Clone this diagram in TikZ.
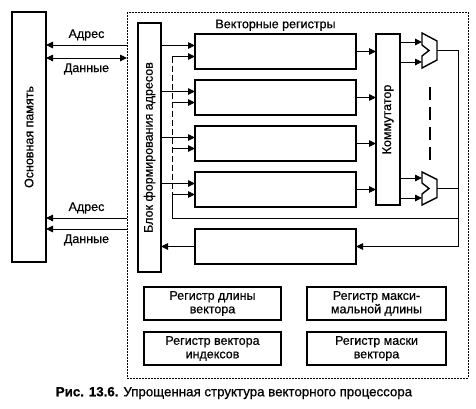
\documentclass[tikz,border=0pt]{standalone}
\usepackage{fontspec}
\setmainfont{Liberation Sans}[FakeBold=0.6]
\usetikzlibrary{arrows.meta,positioning}

\begin{document}
\begin{tikzpicture}[x=1pt,y=-1pt,node distance=11pt,
  font=\fontsize{12.5}{13.5}\selectfont,
  >={Triangle[length=7pt,width=6.5pt]},
  bx/.style={draw,line width=1.5pt,inner sep=0pt,outer sep=0pt},
  rg/.style={bx,minimum width=161pt,minimum height=35pt},
  tb/.style={bx,minimum width=137pt,minimum height=33pt,align=center},
  ar/.style={->,line width=0.9pt},
  ln/.style={line width=0.9pt},
  lb/.style={inner sep=1pt}]
  \useasboundingbox (0,0) rectangle (476,408);
  % frame of the processor
  \draw[line width=0.6pt,dash pattern=on 2pt off 1pt] (127,12) rectangle (468,378);
  \coordinate (fa1) at (127,45);
  \coordinate (fd1) at (127,58);
  \coordinate (fa2) at (127,218);
  \coordinate (fd2) at (127,229);
  % memory and address unit
  \node[bx,minimum width=34pt,minimum height=250pt,
    label={[rotate=90]center:Основная память}] (mem) at (29,137) {};
  \node[bx,minimum width=23pt,minimum height=249pt,
    label={[rotate=90]center:Блок формирования адресов}] (blk) at (149.5,147.5) {};
  % vector registers
  \node[rg] (r1) at (275.5,51.5) {};
  \node[rg,below=of r1] (r2) {};
  \node[rg,below=of r2] (r3) {};
  \node[rg,below=of r3] (r4) {};
  \node[rg,below=22pt of r4] (r5) {};
  \node[lb,above=2pt of r1] (ttl) {Векторные регистры};
  \node[bx,minimum width=24pt,minimum height=171pt,anchor=north west,
    label={[rotate=90]center:Коммутатор}] (com) at ([xshift=20pt]r1.north east) {};
  % multiplexers
  \coordinate (m1) at (422,33);
  \coordinate (m1o) at (437,50.5);
  \coordinate (m1a) at (422,42);
  \coordinate (m1b) at (422,62);
  \coordinate (m2) at (422,172);
  \coordinate (m2o) at (437,188.5);
  \coordinate (m2a) at (422,178);
  \coordinate (m2b) at (422,198);
  \draw[line width=1.4pt,line join=miter] (m1) -- ++(15,8) -- ++(0,19) -- ++(-15,8)
    -- ++(0,-12) -- ++(7,-5.5) -- ++(-7,-5.5) -- cycle;
  \draw[line width=1.4pt,line join=miter] (m2) -- ++(15,7.5) -- ++(0,18) -- ++(-15,7.5)
    -- ++(0,-11) -- ++(7,-5.5) -- ++(-7,-5.5) -- cycle;
  \draw[line width=1.3pt,dash pattern=on 13pt off 7pt] (430,87) -- (430,160);
  % feedback bus
  \coordinate (fb) at (458,218);
  \coordinate (bus) at (172,218);
  \coordinate (a1) at ([yshift=6pt]r1.west);
  \coordinate (a2) at ([yshift=6pt]r2.west);
  \coordinate (a3) at ([yshift=6pt]r3.west);
  \coordinate (a4) at ([yshift=6pt]r4.west);
  \coordinate (b1) at ([yshift=-5pt]r1.west);
  \coordinate (b2) at ([yshift=-5pt]r2.west);
  \coordinate (b3) at ([yshift=-5pt]r3.west);
  \coordinate (b4) at ([yshift=-5pt]r4.west);
  % small registers
  \node[tb] (rlen) at (212.5,303.5) {Регистр длины\\вектора};
  \node[tb,below=12pt of rlen] (ridx) {Регистр вектора\\индексов};
  \node[tb,minimum width=139pt,right=26pt of rlen] (rmax) {Регистр макси-\\мальной длины};
  \node[tb,minimum width=139pt,below=12pt of rmax] (rmsk) {Регистр маски\\вектора};
  \node[lb,font=\fontsize{13.3}{15}\selectfont] (cap) at (234,393)
    {\textbf{Рис. 13.6.} Упрощенная структура векторного процессора};
  % memory lines
  \draw[ar] (fa1) -- (fa1 -| mem.east) node[lb,midway,above=3pt]{Адрес};
  \draw[<->,ln] (mem.east |- fd1) -- (fd1) node[lb,midway,below=4pt]{Данные};
  \draw[ar] (fa2) -- (fa2 -| mem.east) node[lb,midway,above=3pt]{Адрес};
  \draw[ar] (fd2) -- (fd2 -| mem.east) node[lb,midway,below=4pt]{Данные};
  % register inputs
  \draw[ar] (blk.east |- a1) -- (a1);
  \draw[ar] (blk.east |- a2) -- (a2);
  \draw[ar] (blk.east |- a3) -- (a3);
  \draw[ar] (blk.east |- a4) -- (a4);
  \draw[ar] (bus |- b1) -- (b1);
  \draw[ar] (bus |- b2) -- (b2);
  \draw[ar] (bus |- b3) -- (b3);
  \draw[ar] (bus |- b4) -- (b4);
  \draw[ln,dash pattern=on 6pt off 3pt] (bus |- b1) -- (bus |- b4);
  \draw[ln] (bus |- b4) -- (bus) -- (fb);
  % to commutator and multiplexers
  \draw[ar] (r1.east) -- (r1.east -| com.west);
  \draw[ar] (r2.east) -- (r2.east -| com.west);
  \draw[ar] (r3.east) -- (r3.east -| com.west);
  \draw[ar] (r4.east) -- (r4.east -| com.west);
  \draw[ar] (com.east |- m1a) -- (m1a);
  \draw[ar] (com.east |- m1b) -- (m1b);
  \draw[ar] (com.east |- m2a) -- (m2a);
  \draw[ar] (com.east |- m2b) -- (m2b);
  \draw[ar] (m1o) -| (r5.east -| fb) -- (r5.east);
  \draw[ln] (m2o) -- (m2o -| fb);
  \draw[ar] (r5.west) -- (r5.west -| blk.east);
\end{tikzpicture}
\end{document}
